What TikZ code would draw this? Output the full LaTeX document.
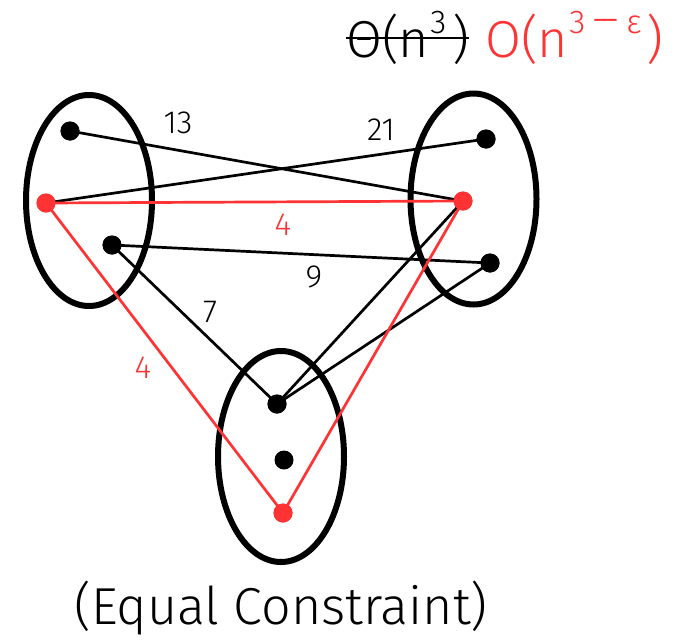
\documentclass[tikz,border=0pt]{standalone}
\usepackage{fontspec}
\setmainfont{Fira Sans}[UprightFont=* Light]
\usetikzlibrary{shapes.geometric}
\definecolor{myred}{RGB}{255,51,51}
\begin{document}
\begin{tikzpicture}[x=1pt,y=-1pt,
  grp/.style={draw, ellipse, line width=6pt, minimum width=126pt, minimum height=211pt, inner sep=0pt},
  dot/.style={circle, fill=black, minimum size=19pt, inner sep=0pt},
  rdot/.style={dot, fill=myred},
  edge/.style={draw, line width=2.7pt},
  redge/.style={draw, myred, line width=2.7pt},
  lbl/.style={font=\fontsize{32}{38}\selectfont, inner sep=0pt},
  rlbl/.style={lbl, text=myred},
  big/.style={font=\fontsize{52}{60}\selectfont, inner sep=0pt}]
\useasboundingbox (0,0) rectangle (684,640);
% groups
\node[grp] (L) at (89,200.5) {};
\node[grp] (R) at (473.5,199) {};
\node[grp] (B) at (281,456.5) {};
% vertices
\node[dot]  (l1) at (70,131) {};
\node[rdot] (l2) at (46,203) {};
\node[dot]  (l3) at (112,245) {};
\node[dot]  (r1) at (486,139) {};
\node[rdot] (r2) at (463,201) {};
\node[dot]  (r3) at (490,263) {};
\node[dot]  (b1) at (277,404) {};
\node[dot]  (b2) at (284,460) {};
\node[rdot] (b3) at (283,513) {};
% black edges
\draw[edge] (l1.center) -- (r2.center);
\draw[edge] (l2.center) -- (r1.center);
\draw[edge] (l3.center) -- (r3.center);
\draw[edge] (l3.center) -- (b1.center);
\draw[edge] (b1.center) -- (r2.center);
\draw[edge] (b1.center) -- (r3.center);
% red edges
\draw[redge] (l2.center) -- (r2.center);
\draw[redge] (l2.center) -- (b3.center);
\draw[redge] (b3.center) -- (r2.center);
% redraw dots on top of edges
\node[rdot] at (l2) {};
\node[rdot] at (r2) {};
\node[rdot] at (b3) {};
\node[dot] at (l1) {};
\node[dot] at (l3) {};
\node[dot] at (r1) {};
\node[dot] at (r3) {};
\node[dot] at (b1) {};
% labels
\node[lbl]  (w13) at (178,123) {13};
\node[lbl]  (w21) at (381,130) {21};
\node[rlbl] (w4a) at (283,225) {4};
\node[lbl]  (w9)  at (314,277) {9};
\node[lbl]  (w7)  at (210,312) {7};
\node[rlbl] (w4b) at (143,368) {4};
% titles
\node[big, anchor=base west] (theta) at (346,57)
  {Θ(n\kern1pt\raisebox{0.46em}{\fontsize{33}{36}\selectfont 3}\kern6pt)};
\draw[line width=2.6pt] ([yshift=19pt]theta.base west) -- ([yshift=19pt]theta.base east);
\node[big, anchor=base west, text=myred] (bigo) at (485,57)
  {O(n\kern1pt\raisebox{0.46em}{\fontsize{33}{36}\selectfont 3\kern5pt\scalebox{1.9}[1.2]{−}\kern5pt ε}\kern5pt)};
\node[big] (cap) at (281,608) {(Equal Constraint)};
\end{tikzpicture}
\end{document}
